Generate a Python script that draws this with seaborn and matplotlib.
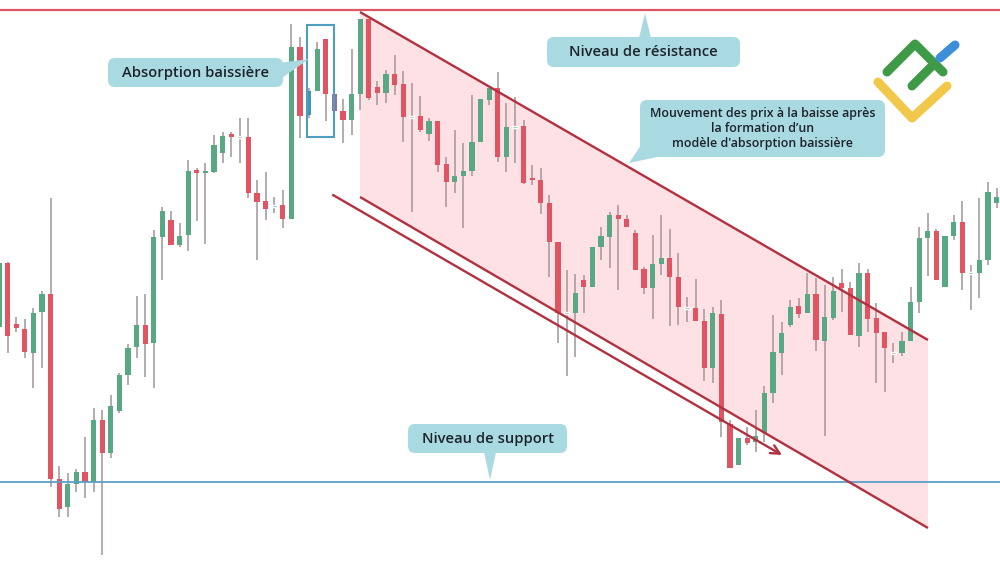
"""
Bearish engulfing chart - candlesticks with channel, support and resistance
"""

import matplotlib
matplotlib.use("Agg")
import matplotlib.pyplot as plt
from matplotlib.patches import Polygon, FancyBboxPatch, Rectangle
import pandas as pd
import seaborn as sns

# ==========================================================
# Data (prices)
# ==========================================================

opens = [273, 337, 276, 271, 247, 288, 306, 121, 93, 116,
         128, 118, 180, 147, 189, 225, 253, 275, 257, 363,
         380, 355, 365, 430, 427, 428, 447, 466, 463, 463,
         407, 399, 394, 395, 381, 553, 485, 509, 561, 506,
         489, 480, 506, 581, 513, 507, 526, 516, 483, 484,
         466, 479, 436, 418, 424, 429, 458, 500, 512, 443,
         473, 474, 422, 420, 397, 358, 287, 287, 320, 313,
         353, 363, 385, 381, 367, 331, 312, 336, 342, 323,
         292, 292, 279, 232, 286, 176, 135, 162, 158, 167,
         207, 247, 275, 294, 287, 306, 259, 282, 317, 312,
         264, 327, 282, 268, 247, 247, 259, 298, 362, 369,
         313, 364, 378, 327, 327, 340, 397]
highs = [342, 338, 283, 281, 292, 309, 402, 134, 127, 131,
         163, 192, 190, 205, 227, 256, 304, 306, 370, 393,
         389, 377, 440, 432, 437, 465, 468, 468, 482, 482,
         420, 428, 403, 410, 576, 563, 512, 558, 561, 506,
         501, 551, 581, 581, 519, 530, 545, 529, 517, 504,
         482, 479, 443, 470, 457, 505, 501, 512, 528, 497,
         503, 480, 435, 432, 405, 358, 330, 326, 325, 353,
         373, 388, 395, 385, 370, 333, 365, 385, 371, 347,
         303, 321, 291, 293, 300, 180, 162, 173, 190, 214,
         285, 278, 300, 302, 327, 322, 315, 323, 331, 318,
         337, 331, 297, 268, 257, 268, 313, 373, 387, 371,
         364, 385, 399, 335, 402, 418, 412]
lows = [270, 247, 268, 242, 212, 232, 113, 83, 83, 108,
        102, 108, 45, 142, 187, 215, 242, 223, 212, 320,
        355, 353, 349, 379, 356, 427, 437, 443, 437, 402,
        340, 380, 387, 372, 381, 462, 482, 509, 479, 483,
        457, 465, 490, 500, 495, 497, 505, 458, 388, 468,
        459, 428, 393, 407, 372, 424, 458, 495, 438, 428,
        437, 416, 415, 386, 323, 257, 224, 243, 287, 313,
        340, 332, 310, 373, 330, 306, 281, 325, 274, 275,
        278, 279, 219, 217, 163, 132, 135, 155, 148, 158,
        197, 225, 273, 282, 287, 249, 164, 280, 288, 265,
        253, 268, 217, 208, 237, 244, 259, 287, 324, 320,
        313, 360, 310, 290, 302, 335, 392]
closes = [337, 264, 272, 248, 287, 306, 121, 91, 116, 128,
          118, 180, 147, 194, 225, 252, 275, 256, 363, 389,
          355, 364, 429, 427, 429, 455, 464, 463, 463, 407,
          398, 391, 394, 381, 553, 484, 509, 551, 506, 489,
          480, 506, 581, 502, 507, 526, 515, 483, 483, 470,
          479, 435, 418, 424, 429, 458, 501, 512, 443, 473,
          473, 417, 420, 397, 358, 287, 287, 307, 313, 353,
          364, 385, 381, 373, 330, 312, 336, 342, 323, 293,
          292, 279, 232, 287, 178, 132, 162, 157, 164, 207,
          248, 267, 293, 286, 306, 260, 283, 309, 312, 265,
          327, 281, 267, 252, 247, 259, 298, 362, 369, 320,
          364, 378, 327, 327, 340, 408, 403]

# candles recoloured inside the highlight box
special_colors = {36: "#3e9aa6", 39: "#9b6f99"}

resistance_level = 590
support_level = 118

# annotation geometry, in picture pixels
channel_top = [(360, 12), (928, 340)]
channel_bottom = [(360, 197), (928, 528)]
channel_outer = [(333, 195), (782, 455)]
engulf_box = (307, 25, 334, 137)

GREEN = "#58a883"
RED = "#e05561"
WICK = "#a39596"
BOX = "#a9d9e1"
DARK_RED = "#b3303f"

df = pd.DataFrame({
    "open": opens, "high": highs, "low": lows, "close": closes
})
df["bar"] = range(len(df))

# ==========================================================
# Figure
# ==========================================================

sns.set_theme(style="white")
plt.rcParams["font.family"] = ["Open Sans", "DejaVu Sans"]

fig = plt.figure(figsize=(10, 5.87), dpi=100)

# background layer in pixel coordinates (channel fill)
ax_bg = fig.add_axes([0, 0, 1, 1], zorder=0)
ax_bg.set_xlim(0, 1000)
ax_bg.set_ylim(587, 0)
ax_bg.axis("off")
ax_bg.add_patch(Polygon(
    [channel_top[0], channel_top[1], channel_bottom[1], channel_bottom[0]],
    closed=True, fc="#fde1e5", ec="none"
))

# candles
ax = fig.add_axes([0, 0, 1, 1], zorder=1)
ax.patch.set_alpha(0)
ax.set_xlim(1 / 8.6, 1001 / 8.6)
ax.set_ylim(13, 600)
ax.axis("off")

ax.vlines(df["bar"], df["low"], df["high"], color=WICK, lw=1.1, zorder=2)

for _, row in df.iterrows():
    i = int(row["bar"])
    o, c = row["open"], row["close"]
    if abs(o - c) < 1:
        ax.bar(i, 2, bottom=o - 1, width=0.6, color="#8fa596", zorder=3)
        continue
    color = GREEN if c > o else RED
    color = special_colors.get(i, color)
    ax.bar(i, abs(c - o), bottom=min(o, c), width=0.62,
           color=color, zorder=3, linewidth=0)

ax.axhline(resistance_level, color="#e05565", lw=1.6, zorder=4)
ax.axhline(support_level, color="#5d9fc4", lw=1.3, zorder=4)

# ==========================================================
# Annotations layer
# ==========================================================

ax_fg = fig.add_axes([0, 0, 1, 1], zorder=2)
ax_fg.patch.set_alpha(0)
ax_fg.set_xlim(0, 1000)
ax_fg.set_ylim(587, 0)
ax_fg.axis("off")

for seg in (channel_top, channel_bottom):
    ax_fg.plot([seg[0][0], seg[1][0]], [seg[0][1], seg[1][1]],
               color=DARK_RED, lw=1.7, solid_capstyle="butt")

ax_fg.annotate(
    "", xy=channel_outer[1], xytext=channel_outer[0],
    arrowprops=dict(arrowstyle="->", color=DARK_RED, lw=1.7,
                    mutation_scale=16, shrinkA=0, shrinkB=0)
)

x0, y0, x1, y1 = engulf_box
ax_fg.add_patch(Rectangle((x0, y0), x1 - x0, y1 - y0,
                          fill=False, ec="#4f9ec2", lw=1.5))


def label(box, text, size, tail):
    bx0, by0, bx1, by1 = box
    ax_fg.add_patch(FancyBboxPatch(
        (bx0, by0), bx1 - bx0, by1 - by0,
        boxstyle="round,pad=0,rounding_size=7", fc=BOX, ec="none"
    ))
    ax_fg.add_patch(Polygon(tail, closed=True, fc=BOX, ec="none"))
    ax_fg.text((bx0 + bx1) / 2, (by0 + by1) / 2, text,
               ha="center", va="center", fontsize=size,
               color="#1d232c", fontweight="semibold", linespacing=1.15)


label((108, 58, 283, 87), "Absorption baissière", 10.6,
      [(279, 63), (279, 80), (309, 59)])
label((547, 37, 740, 67), "Niveau de résistance", 10.6,
      [(639, 38), (651, 38), (645, 13)])
label((408, 424, 567, 453), "Niveau de support", 10.6,
      [(484, 452), (496, 452), (490, 480)])
label((640, 100, 885, 157),
      "Mouvement des prix à la baisse après\nla formation d’un\n"
      "modèle d'absorption baissière", 8.9,
      [(641, 145), (662, 156), (629, 163)])

# logo (rough)
ax_fg.plot([878, 912, 947], [82, 118, 86], color="#f2c84b", lw=6.5,
           solid_capstyle="round", solid_joinstyle="round")
ax_fg.plot([887, 915, 943], [72, 44, 72], color="#3f9a48", lw=6.5,
           solid_capstyle="round", solid_joinstyle="round")
ax_fg.plot([912, 931], [86, 67], color="#3f9a48", lw=6.5,
           solid_capstyle="round")
ax_fg.plot([940, 955], [58, 45], color="#3d8fd8", lw=6.5,
           solid_capstyle="round")

fig.savefig("out.png", dpi=100)
